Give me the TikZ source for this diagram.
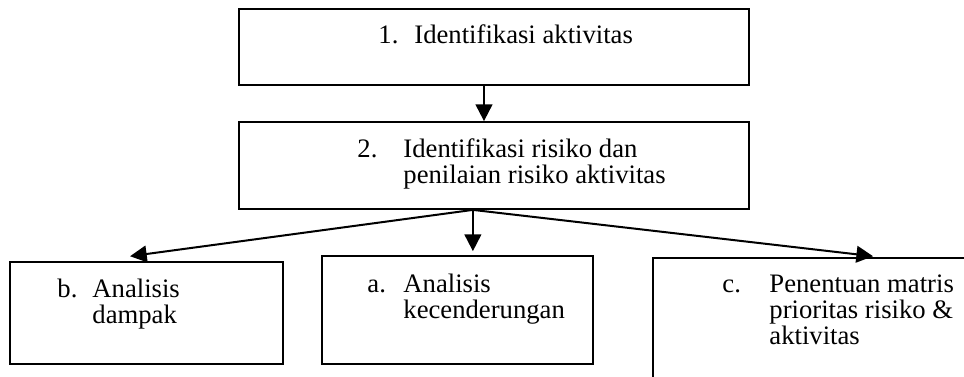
\documentclass[tikz,border=0pt]{standalone}
\usepackage{fontspec}
\setmainfont{Liberation Serif}
\usetikzlibrary{arrows.meta,fit}

\begin{document}
\begin{tikzpicture}[x=0.45pt,y=-0.45pt,
  box/.style={draw,line width=0.8pt,inner sep=0pt},
  txt/.style={anchor=base west,inner sep=0pt,align=left,font=\fontsize{12}{11.7}\selectfont},
  arr/.style={line width=0.9pt,-{Triangle[length=7.5pt,width=7.5pt]}}]
\path[use as bounding box,clip] (0,0) rectangle (964,376);
% boxes
\node[box,fit={(239,9) (749,85)}] (act) {};
\node[box,fit={(239,122) (749,209)}] (risk) {};
\node[box,fit={(10,262) (283,364)}] (dampak) {};
\node[box,fit={(322,256) (593,364)}] (cend) {};
\node[box,fit={(653,258) (990,400)}] (prio) {};
% texts (base = last line)
\node[txt] (n1) at (378,43) {1.};
\node[txt] (t1) at (414,43) {Identifikasi aktivitas};
\node[txt] (n2) at (357,157) {2.};
\node[txt] (t2) at (403,183) {Identifikasi risiko dan\\penilaian risiko aktivitas};
\node[txt] (nb) at (57,297) {b.};
\node[txt] (tb) at (92,323) {Analisis\\dampak};
\node[txt] (na) at (367,292) {a.};
\node[txt] (ta) at (403,318) {Analisis\\kecenderungan};
\node[txt] (nc) at (722,292) {c.};
\node[txt] (tc) at (769,344) {Penentuan matris\\prioritas risiko \&\\aktivitas};
% arrows
\draw[arr] ([xshift=-4.5pt]act.south) -- ([xshift=-4.5pt]risk.north);
\coordinate (fork) at ([xshift=-9.5pt]risk.south);
\draw[arr] (fork) -- ([xshift=-7.4pt,yshift=2.2pt]dampak.north);
\draw[arr,shorten >=1.8pt] (fork) -- (fork |- cend.north);
\draw[arr] (fork) -- ([xshift=23.2pt,yshift=0.4pt]prio.north);
\end{tikzpicture}
\end{document}
